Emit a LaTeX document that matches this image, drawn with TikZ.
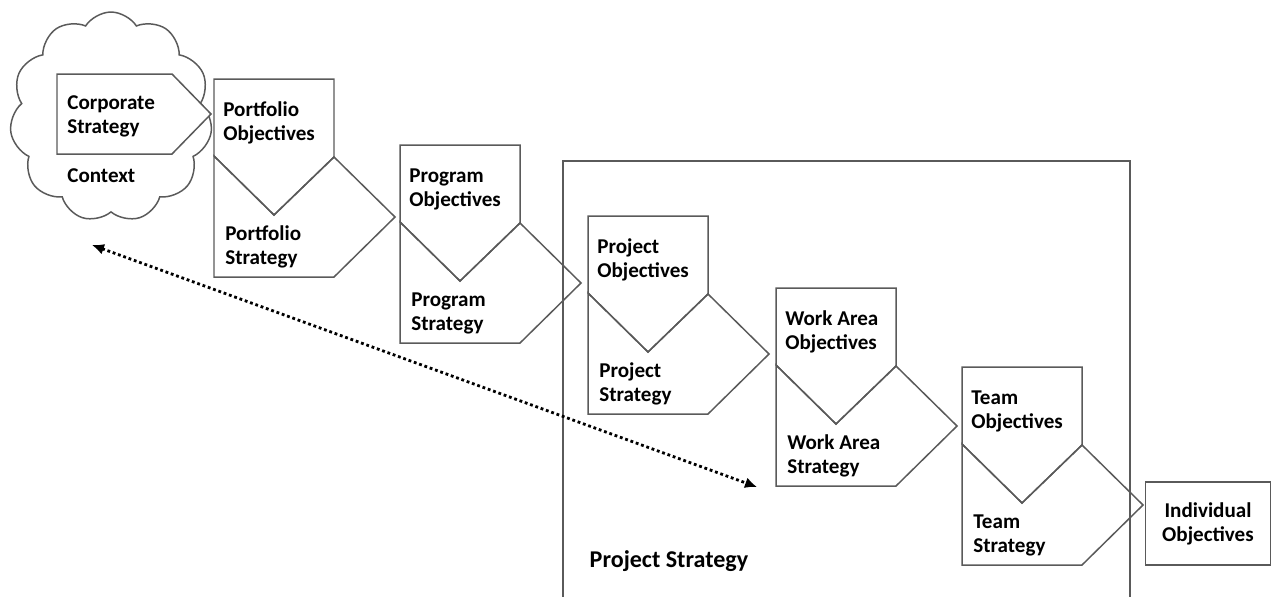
\documentclass[tikz,border=0pt]{standalone}
\usepackage{fontspec}
\setmainfont{Carlito}
\usetikzlibrary{arrows.meta,shapes.symbols}

\definecolor{edgegray}{HTML}{5A5A5A}
\tikzset{
  shapeline/.style={draw=edgegray, line width=0.85pt, line join=miter},
  lbl/.style={font=\fontsize{12}{13.6}\selectfont\bfseries, align=left, anchor=west, inner sep=0pt},
}

\begin{document}
\begin{tikzpicture}[x=0.02cm, y=-0.02cm]
\useasboundingbox (0,0) rectangle (1272,596);

% context cloud with corporate strategy
\node (cloud) [cloud, cloud puffs=11, cloud puff arc=115, cloud ignores aspect, shapeline,
               minimum width=4.05cm, minimum height=4.2cm, inner sep=0pt] at (111,117) {};
\draw [shapeline, fill=white] (57,74) -- (172,74) -- (211,114) -- (172,154) -- (57,154) -- cycle;
\node (corp)    [lbl] at (67,116) {Corporate\\Strategy};
\node (context) [lbl] at (67,176) {Context};

% project strategy frame
\draw [shapeline] (563,600) -- (563,161) -- (1130,161) -- (1130,600);
\node (projstrat) [font=\fontsize{13.7}{15}\selectfont\bfseries, inner sep=0pt] at (669,561) {Project Strategy};

% objectives / strategy pairs
\foreach \n/\x/\y/\t in {port/214/79/Portfolio, prog/400/145/Program, proj/588/216/Project,
                         work/776/288/Work Area, team/962/367/Team} {
  \begin{scope}[shift={(\x,\y)}]
    \draw [shapeline] (0,0) -- (120,0) -- (120,78) -- (60,136) -- (0,77) -- cycle;
    \draw [shapeline] (0,77) -- (60,136) -- (120,78) -- (181,138) -- (120,198) -- (0,198) -- cycle;
    \node (\n obj)   [lbl] at (9,44)  {\t\\Objectives};
    \node (\n strat) [lbl] at (11,168) {\t\\Strategy};
  \end{scope}
}

% individual objectives
\node (indiv) [shapeline, minimum width=2.5cm, minimum height=1.66cm, inner sep=0pt,
               font=\fontsize{12}{13.6}\selectfont\bfseries, align=center] at (1208,523.5) {Individual\\Objectives};

% dotted link
\coordinate (linkA) at (92,245);
\coordinate (linkB) at (757,487);
\draw [line width=1.6pt, dash pattern=on 1.6pt off 1.6pt, {Latex[length=2.4mm,width=2.2mm]}-{Latex[length=2.4mm,width=2.2mm]}] (linkA) -- (linkB);
\end{tikzpicture}
\end{document}
